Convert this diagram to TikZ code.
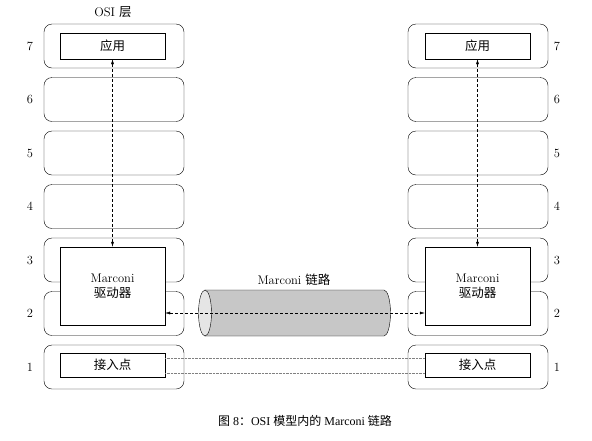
\documentclass[tikz,border=0pt]{standalone}
\usepackage{fontspec}
\newfontfamily\cjk{Noto Sans CJK SC}
\newfontfamily\capfont{Liberation Serif}
\usetikzlibrary{arrows.meta}
\tikzset{
  layer/.style={draw, rounded corners=8pt, minimum width=140pt, minimum height=44pt},
  unit/.style={draw, fill=white, minimum width=105pt, inner sep=0pt},
  link/.style={draw, <->, >={Latex[length=5pt,width=3pt]}, dash pattern=on 3pt off 2pt},
}

\begin{document}
\begin{tikzpicture}[x=1pt, y=-1pt, font=\fontsize{12.5}{15}\selectfont]
  \useasboundingbox (0,0) rectangle (592,440);
  % the seven layers on both sides
  \foreach \i in {1,...,7} {
    \pgfmathsetmacro\ly{46+(7-\i)*53.5}
    \node[layer] (osiL\i) at (114,\ly) {};
    \node[layer] (osiR\i) at (478,\ly) {};
    \node (numL\i) at (30,\ly) {\i};
    \node (numR\i) at (557,\ly) {\i};
  }
  \node (osititle) at (113,12) {OSI {\cjk 层}};

  % boxes inside the layers
  \node[unit, minimum height=26pt] (appL) at (112.5,46) {\cjk 应用};
  \node[unit, minimum height=26pt] (appR) at (477.5,46) {\cjk 应用};
  \node[unit, minimum height=78pt, align=center] (drvL) at (112.5,286) {Marconi\\{\cjk 驱动器}};
  \node[unit, minimum height=78pt, align=center] (drvR) at (477.5,286) {Marconi\\{\cjk 驱动器}};
  \node[unit, minimum height=24pt] (accL) at (112.5,365) {\cjk 接入点};
  \node[unit, minimum height=24pt] (accR) at (477.5,365) {\cjk 接入点};

  % the Marconi link
  \coordinate (cable) at (294,313);
  \filldraw[fill=black!22] (205,290) -- (384,290)
    arc[start angle=90, end angle=-90, x radius=6.5pt, y radius=23pt] -- (205,336) -- cycle;
  \filldraw[fill=black!10] (205,313) ellipse[x radius=6.5pt, y radius=23pt];
  \node (cablelabel) at (294,280) {Marconi {\cjk 链路}};

  \draw[link] (appL.south) -- (drvL.north);
  \draw[link] (appR.south) -- (drvR.north);
  \draw[link] (cable -| drvL.east) -- (cable -| drvR.west);
  \draw[gray, densely dotted] ([yshift=-5pt]accL.north east) -- ([yshift=-5pt]accR.north west);
  \draw[gray, densely dotted] ([yshift=4pt]accL.south east) -- ([yshift=4pt]accR.south west);

  \node[font=\capfont\fontsize{12}{14}\selectfont] (caption) at (305,421) {{\cjk 图} 8{\cjk ：}OSI {\cjk 模型内的} Marconi {\cjk 链路}};
\end{tikzpicture}
\end{document}
